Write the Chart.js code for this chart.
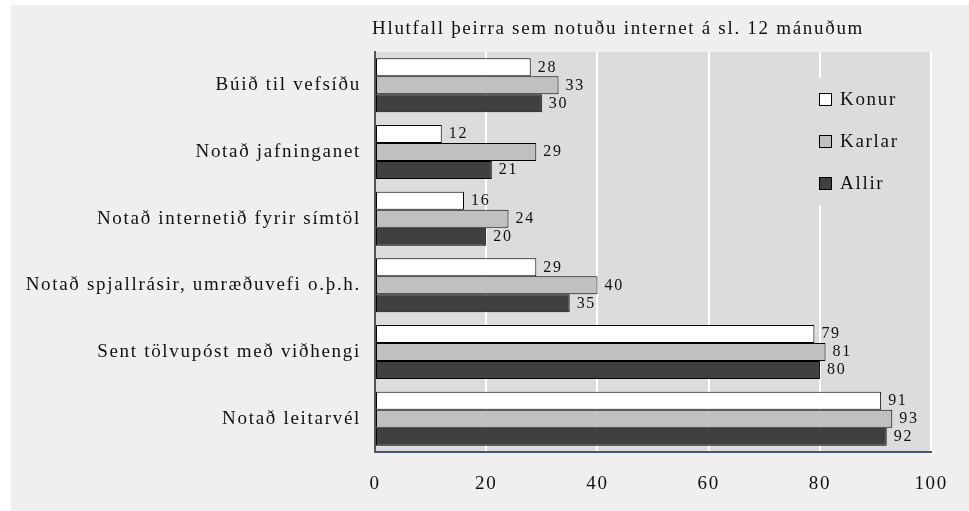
<!DOCTYPE html>
<html>
<head>
<meta charset="utf-8">
<script src="https://cdn.jsdelivr.net/npm/chart.js@4"></script>
<style>
  body { margin: 0; background: #fff; }
  canvas { display: block; }
</style>
</head>
<body>
<canvas id="graf" width="969" height="511"></canvas>
<script>
const titill = 'Hlutfall þeirra sem notuðu internet á sl. 12 mánuðum';
const flokkar = ['Búið til vefsíðu', 'Notað jafninganet', 'Notað internetið fyrir símtöl', 'Notað spjallrásir, umræðuvefi o.þ.h.', 'Sent tölvupóst með viðhengi', 'Notað leitarvél'];
const konur = [28, 12, 16, 29, 79, 91];
const karlar = [33, 29, 24, 40, 81, 93];
const allir = [30, 21, 20, 35, 80, 92];
const xTikk = [0, 20, 40, 60, 80, 100];

const serif = 'Liberation Serif';
const bil = '1.7px';

// bakgrunnur, titill og bil milli stafa
const bakgrunnur = {
    id: 'bakgrunnur',
    beforeUpdate(chart) { chart.ctx.letterSpacing = bil; },
    beforeDraw(chart) {
        const ctx = chart.ctx;
        const a = chart.chartArea;
        ctx.letterSpacing = bil;
        ctx.save();
        ctx.fillStyle = '#fff';
        ctx.fillRect(0, 0, chart.width, chart.height);
        ctx.fillStyle = '#efefef';
        ctx.fillRect(11, 5, chart.width - 11, chart.height - 5);
        ctx.fillStyle = '#dcdcdc';
        ctx.fillRect(a.left, a.top, a.right - a.left, a.bottom - a.top);
        ctx.fillStyle = '#111';
        ctx.font = '19px ' + serif;
        ctx.textBaseline = 'middle';
        ctx.textAlign = 'left';
        ctx.fillText(titill, 372, 29);
        ctx.restore();
    }
};

// gildi við enda súlna og skýringar
const merkingar = {
    id: 'merkingar',
    afterDatasetsDraw(chart) {
        const ctx = chart.ctx;
        ctx.save();
        ctx.fillStyle = '#111';
        ctx.font = '16px ' + serif;
        ctx.textBaseline = 'middle';
        ctx.textAlign = 'left';
        chart.data.datasets.forEach((ds, i) => {
            chart.getDatasetMeta(i).data.forEach((bar, j) => {
                ctx.fillText(ds.data[j], bar.x + 7, bar.y);
            });
        });

        ctx.fillStyle = '#dcdcdc';
        ctx.fillRect(812, 78, 100, 127);
        ctx.font = '19px ' + serif;
        chart.data.datasets.forEach((ds, i) => {
            const y = 100 + i * 42;
            ctx.fillStyle = ds.backgroundColor;
            ctx.fillRect(819.5, y - 6.5, 12, 12);
            ctx.strokeStyle = '#000';
            ctx.lineWidth = 1;
            ctx.strokeRect(819.5, y - 6.5, 12, 12);
            ctx.fillStyle = '#111';
            ctx.fillText(ds.label, 840, y);
        });
        ctx.restore();
    }
};

const graf = new Chart(document.getElementById('graf'), {
    type: 'bar',
    data: {
        labels: flokkar,
        datasets: [{
                label: 'Konur',
                data: konur,
                backgroundColor: '#ffffff'
            },
            {
                label: 'Karlar',
                data: karlar,
                backgroundColor: '#c0c0c0'
            },
            {
                label: 'Allir',
                data: allir,
                backgroundColor: '#404040'
            }
        ]
    },
    options: {
        indexAxis: 'y',
        responsive: false,
        animation: false,
        datasets: {
            bar: {
                borderColor: '#000',
                borderWidth: 1,
                borderSkipped: false,
                categoryPercentage: 0.81,
                barPercentage: 1
            }
        },
        layout: {
            padding: { top: 52, right: 30, left: 0, bottom: 0 }
        },
        plugins: {
            legend: { display: false },
            tooltip: { enabled: false }
        },
        scales: {
            x: {
                min: 0,
                max: 100,
                afterBuildTicks(scale) {
                    scale.ticks = xTikk.map(v => ({ value: v }));
                },
                afterFit(scale) { scale.height = 59; },
                grid: {
                    color: (c) => c.tick && c.tick.value === 0 ? 'rgba(0,0,0,0)' : '#fff',
                    lineWidth: 2,
                    drawTicks: false
                },
                border: { color: '#4a5670', width: 2 },
                ticks: {
                    color: '#111',
                    padding: 21,
                    maxRotation: 0,
                    font: { size: 19, family: serif }
                }
            },
            y: {
                afterFit(scale) { scale.width = 375; },
                grid: { display: false },
                border: { color: '#555', width: 2 },
                ticks: {
                    color: '#111',
                    padding: 6,
                    font: { size: 19, family: serif }
                }
            }
        }
    },
    plugins: [bakgrunnur, merkingar]
});
</script>
</body>
</html>
